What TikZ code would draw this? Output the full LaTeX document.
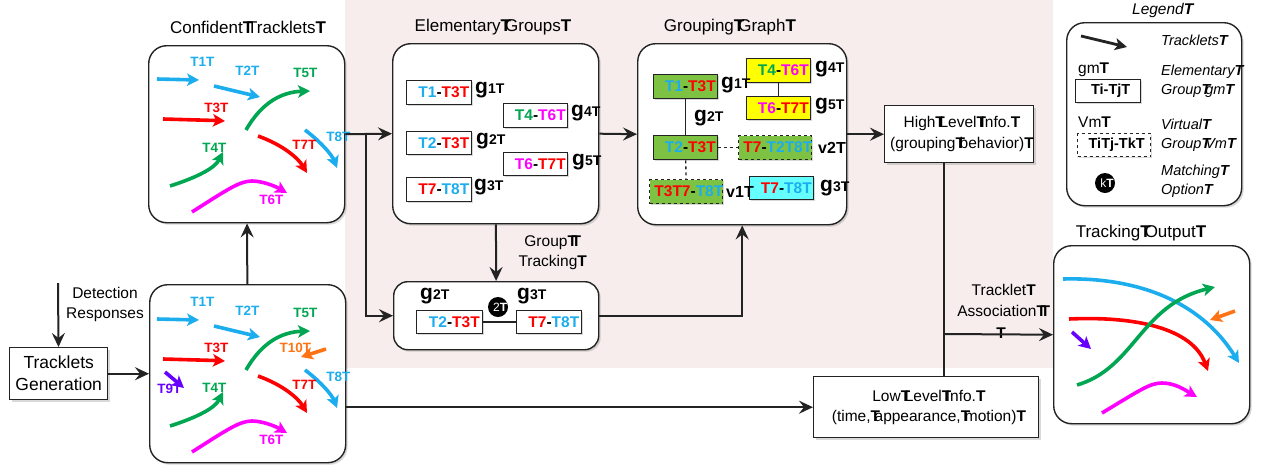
\documentclass[tikz,border=0pt]{standalone}
\usepackage{fontspec}
\setmainfont{Liberation Sans}
\usetikzlibrary{arrows.meta,shadows}
\definecolor{tcyan}{RGB}{28,173,238}
\definecolor{tred}{RGB}{255,0,0}
\definecolor{tgreen}{RGB}{0,166,81}
\definecolor{tmag}{RGB}{255,0,255}
\definecolor{torange}{RGB}{255,115,20}
\definecolor{tpurple}{RGB}{102,0,255}
\definecolor{bgreen}{RGB}{125,194,66}
\definecolor{byellow}{RGB}{255,255,0}
\definecolor{bcyan}{RGB}{102,255,255}
\definecolor{pinkbg}{RGB}{246,237,236}
\definecolor{ink}{RGB}{35,35,35}
\newcommand{\Tx}{\makebox[0.26em][l]{\bfseries T}}
\newcommand{\cy}[1]{\textcolor{tcyan}{#1}}
\newcommand{\rd}[1]{\textcolor{tred}{#1}}
\newcommand{\gr}[1]{\textcolor{tgreen}{#1}}
\newcommand{\mg}[1]{\textcolor{tmag}{#1}}
\newcommand{\glab}[1]{{\fontsize{21}{21}\selectfont\bfseries g}{\fontsize{14}{14}\selectfont\bfseries #1\Tx}}
\newcommand{\vlab}[1]{{\fontsize{16}{16}\selectfont\bfseries v#1\Tx}}
\newcommand{\trackset}[1]{%
  \draw[trk,tcyan] (157,79) -- (199,80);
  \draw[trk,tcyan] (214,86) -- (260,97);
  \draw[trk,tgreen] (246,130) .. controls (262,102) and (282,92) .. (310,91);
  \draw[trk,tred] (163,119) .. controls (190,119) .. (225,121);
  \draw[trk,tgreen] (170,186) .. controls (198,177) and (215,168) .. (223,152);
  \draw[trk,tred] (258,136) .. controls (283,145) and (298,158) .. (307,173);
  \draw[trk,tcyan] (305,130) .. controls (321,142) and (332,155) .. (337,168);
  \draw[trk,tmag] (192,212) .. controls (228,189) and (240,181) .. (252,181) .. controls (262,181) and (275,186) .. (287,193);
  \node[tk,text=tcyan] (#1l1) at (200,62) {T1\Tx};
  \node[tk,text=tcyan] (#1l2) at (245,71) {T2\Tx};
  \node[tk,text=tgreen] (#1l5) at (303,73) {T5\Tx};
  \node[tk,text=tred] (#1l3) at (214,108) {T3\Tx};
  \node[tk,text=tgreen] (#1l4) at (212,148) {T4\Tx};
  \node[tk,text=tred] (#1l7) at (302,145) {T7\Tx};
  \node[tk,text=tcyan] (#1l8) at (336,137) {T8\Tx};
  \node[tk,text=tmag] (#1l6) at (269,200) {T6\Tx};
}
\begin{document}
\begin{tikzpicture}[x=1pt,y=-1pt,
  bigbox/.style={draw=ink, line width=1.4pt, rounded corners=18pt, fill=white, anchor=north west, inner sep=0,
    drop shadow={shadow xshift=2pt,shadow yshift=-2pt,opacity=0.25,fill=black!60}},
  rbox/.style={draw=ink, line width=1.4pt, fill=white, anchor=north west, align=center,
    drop shadow={shadow xshift=2pt,shadow yshift=-2pt,opacity=0.25,fill=black!60}},
  sbox/.style={draw=ink, line width=1.3pt, fill=white, anchor=north west, inner sep=0,
    font=\fontsize{15.5}{18}\selectfont\bfseries,
    drop shadow={shadow xshift=1.5pt,shadow yshift=-1.5pt,opacity=0.25,fill=black!60}},
  dbox/.style={sbox, dashed},
  conn/.style={draw=ink, line width=2pt, -{Stealth[length=14pt,width=13pt,inset=5pt]}},
  trk/.style={line width=3.6pt, -{Stealth[length=12pt,width=12.5pt,inset=3pt]}},
  tk/.style={font=\fontsize{13.5}{15}\selectfont\bfseries, inner sep=0},
  ttl/.style={font=\fontsize{17}{20}\selectfont, inner sep=0},
  lbl/.style={font=\fontsize{15.5}{20}\selectfont, align=center, inner sep=0},
  gl/.style={anchor=west, inner sep=0},
  leg/.style={anchor=west, inner sep=0, font=\fontsize{14.5}{16}\selectfont\itshape},
  mcirc/.style={circle, fill=black, text=white, minimum size=20pt, inner sep=0, font=\fontsize{12}{12}\selectfont}
]
\useasboundingbox (0,0) rectangle (1261,467);
\fill[pinkbg] (345,0) rectangle (1053,368);

% main boxes
\node[bigbox, minimum width=196, minimum height=177] (conf) at (148,45) {};
\node[bigbox, minimum width=196, minimum height=178] (track) at (149,284) {};
\node[bigbox, minimum width=206, minimum height=180] (elem) at (392,43) {};
\node[bigbox, minimum width=205, minimum height=68, rounded corners=14pt] (gtrack) at (393,281) {};
\node[bigbox, minimum width=209, minimum height=181] (ggraph) at (637,43) {};
\node[bigbox, minimum width=196, minimum height=178] (out) at (1053,245) {};
\node[bigbox, minimum width=175, minimum height=183] (leg) at (1066,22) {};
\node[rbox, minimum width=98, minimum height=52, inner sep=0, font=\fontsize{17.5}{22}\selectfont] (gen) at (9,347) {Tracklets\\Generation};
\node[rbox, minimum width=149, minimum height=57, inner sep=0, font=\fontsize{15.5}{21}\selectfont] (high) at (884,105) {High\Tx Level\Tx Info.\Tx\\(grouping\Tx behavior)\Tx};
\node[rbox, minimum width=225, minimum height=61, inner sep=0, font=\fontsize{15.5}{20}\selectfont] (low) at (813,376) {Low\Tx Level\Tx Info.\Tx\\(time,\Tx appearance,\Tx motion)\Tx};

% titles
\node[ttl] (conft) at (245,27) {Confident\Tx Tracklets\Tx};
\node[ttl] (elemt) at (490,27) {Elementary\Tx Groups\Tx};
\node[ttl] (ggt) at (727,27) {Grouping\Tx Graph\Tx};
\node[ttl] (outt) at (1138,233) {Tracking\Tx Output\Tx};
\node[ttl, font=\fontsize{15.5}{18}\selectfont\itshape] (legt) at (1160,10) {Legend\Tx};

% tracklets
\trackset{a}
\begin{scope}[shift={(0,240)}]
\trackset{b}
\end{scope}
\draw[trk,tpurple] (165,372) -- (184,388);
\node[tk,text=tpurple] (bl9) at (167,389) {T9\Tx};
\draw[trk,torange] (326,349) -- (301,357);
\node[tk,text=torange] (bl10) at (293,348) {T10\Tx};

% output tracklets
\draw[trk,tcyan] (1063,279) .. controls (1135,277) and (1200,300) .. (1239,363);
\draw[trk,tred] (1069,319) .. controls (1135,316) and (1192,328) .. (1208,371);
\draw[trk,tgreen] (1077,385) .. controls (1135,368) and (1140,305) .. (1215,287);
\draw[trk,tpurple] (1072,332) -- (1091,349);
\draw[trk,torange] (1235,311) -- (1210,320);
\draw[trk,tmag] (1102,413) .. controls (1140,390) and (1150,383) .. (1162,383) .. controls (1175,383) and (1185,390) .. (1197,397);

% elementary groups
\node[sbox, minimum width=65, minimum height=24] (e1) at (406,80) {\hspace{4pt}\cy{T1}-\rd{T3\Tx}};
\node[sbox, minimum width=64, minimum height=24] (e4) at (503,103) {\hspace{4pt}\gr{T4}-\mg{T6\Tx}};
\node[sbox, minimum width=65, minimum height=23] (e2) at (406,131) {\hspace{4pt}\cy{T2}-\rd{T3\Tx}};
\node[sbox, minimum width=64, minimum height=23] (e5) at (503,152) {\hspace{4pt}\mg{T6}-\rd{T7\Tx}};
\node[sbox, minimum width=65, minimum height=24] (e3) at (406,177) {\hspace{4pt}\rd{T7}-\cy{T8\Tx}};
\node[gl] (eg1) at (475,90) {\glab{1}};
\node[gl] (eg4) at (571,113) {\glab{4}};
\node[gl] (eg2) at (476,141) {\glab{2}};
\node[gl] (eg5) at (572,162) {\glab{5}};
\node[gl] (eg3) at (474,187) {\glab{3}};

% group tracking
\node[sbox, minimum width=66, minimum height=23] (t2) at (416,310) {\hspace{4pt}\cy{T2}-\rd{T3\Tx}};
\node[sbox, minimum width=65, minimum height=23] (t3) at (516,310) {\hspace{4pt}\rd{T7}-\cy{T8\Tx}};
\draw[ink, line width=2pt] (t2) -- (t3);
\node[gl] (tg2) at (420,296) {\glab{2}};
\node[gl] (tg3) at (517,296) {\glab{3}};
\node[mcirc] (m2) at (498,307) {2\Tx};

% grouping graph
\node[sbox, fill=bgreen, minimum width=64, minimum height=24] (g1) at (653,74) {\hspace{4pt}\cy{T1}-\rd{T3\Tx}};
\node[sbox, fill=byellow, minimum width=64, minimum height=24] (g4) at (746,58) {\hspace{4pt}\gr{T4}-\mg{T6\Tx}};
\node[sbox, fill=byellow, minimum width=64, minimum height=23] (g5) at (746,96) {\hspace{4pt}\mg{T6}-\rd{T7\Tx}};
\node[sbox, fill=bgreen, minimum width=64, minimum height=24] (g2) at (653,135) {\hspace{4pt}\cy{T2}-\rd{T3\Tx}};
\node[dbox, fill=bgreen, minimum width=73, minimum height=24] (v2) at (738,135) {\rd{T7}-\cy{T2T8\Tx}};
\node[dbox, fill=bgreen, minimum width=73, minimum height=24] (v1) at (649,179) {\rd{T3T7}-\cy{T8\Tx}};
\node[sbox, fill=bcyan, minimum width=64, minimum height=23] (g3) at (749,176) {\hspace{4pt}\rd{T7}-\cy{T8\Tx}};
\draw[ink, line width=1.3pt] (g1) -- (g2);
\draw[ink, line width=1.3pt] (g4) -- (g5);
\draw[ink, line width=1.3pt, dashed] (g2) -- (v2);
\draw[ink, line width=1.3pt, dashed] (g2) -- (v1);
\node[gl] (gg1) at (721,85) {\glab{1}};
\node[gl] (gg4) at (815,69) {\glab{4}};
\node[gl] (gg5) at (815,106) {\glab{5}};
\node[gl] (gg2) at (694,118) {\glab{2}};
\node[gl] (gv2) at (818,148) {\vlab{2}};
\node[gl] (gv1) at (726,192) {\vlab{1}};
\node[gl] (gg3) at (820,188) {\glab{3}};

% labels
\node[lbl] (detl) at (105,304) {Detection\\Responses};
\node[lbl] (gtl) at (550,253) {Group\Tx\Tx\\Tracking\Tx};
\node[lbl, font=\fontsize{15.5}{21.5}\selectfont] (tal) at (1001,311) {Tracklet\Tx\\Association\Tx\Tx\\\textbf{T}};

% connectors
\coordinate (det) at (58,283);
\draw[conn] (det) -- (gen);
\draw[conn] (gen) -- (track);
\draw[conn] (track) -- (conf);
\draw[conn] (conf.east) -- (elem.west);
\coordinate (br) at (366,133);
\draw[conn] (br) |- (gtrack.west);
\draw[conn] (elem.east) -- (ggraph.west);
\draw[conn] (elem) -- (gtrack);
\draw[conn] (gtrack.east) -| (ggraph.south);
\draw[conn] (ggraph.east) -- (high.west);
\draw[conn] (low.west -| track.east) -- (low.west);
\coordinate (vl) at (944,162);
\draw[ink, line width=2pt] (vl) -- (vl |- low.north);
\coordinate (as) at (944,334);
\draw[conn] (as) -- (out.west);

% legend
\coordinate (la1) at (1081,36);
\coordinate (la2) at (1127,47);
\draw[ink, line width=2.8pt, -{Stealth[length=12pt,width=12pt,inset=3pt]}] (la1) -- (la2);
\node[leg] (lt1) at (1161,40) {Tracklets\Tx};
\node[gl, font=\fontsize{15.5}{16}\selectfont] (lgm) at (1078,70) {gm\Tx};
\node[sbox, minimum width=65, minimum height=23, font=\fontsize{14.5}{16}\selectfont\bfseries] (lb1) at (1075,79) {Ti-Tj\Tx};
\node[leg] (lt2) at (1161,72) {Elementary\Tx};
\node[leg] (lt3) at (1161,91) {Group\Tx g\textit{m}\Tx};
\node[gl, font=\fontsize{15.5}{16}\selectfont] (lvm) at (1078,122) {Vm\Tx};
\node[dbox, minimum width=73, minimum height=23, font=\fontsize{14.5}{16}\selectfont\bfseries] (lb2) at (1077,133) {TiTj-Tk\Tx};
\node[leg] (lt4) at (1161,124) {Virtual\Tx};
\node[leg] (lt5) at (1161,145) {Group\Tx V\textit{m}\Tx};
\node[mcirc] (lk) at (1105,183) {k\Tx};
\node[leg] (lt6) at (1161,172) {Matching\Tx};
\node[leg] (lt7) at (1161,191) {Option\Tx};
\end{tikzpicture}
\end{document}
